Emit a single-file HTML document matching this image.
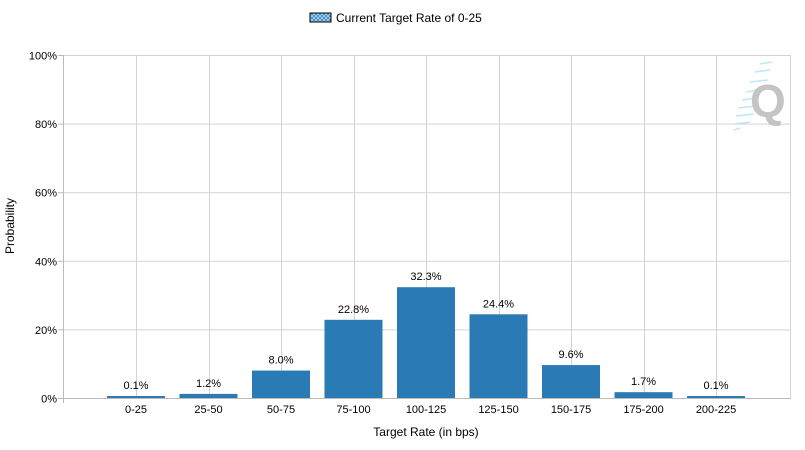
<!DOCTYPE html>
<html><head><meta charset="utf-8"><style>
body{margin:0;background:#fff;}
svg{display:block;font-family:"Liberation Sans",sans-serif;}
</style></head><body>
<svg id="chart" width="805" height="450" viewBox="0 0 805 450">
<defs>
<pattern id="hatch" width="4" height="4" patternUnits="userSpaceOnUse">
<rect width="4" height="4" fill="#2a7ab5"/>
<path d="M0 0L4 4M4 0L0 4" stroke="#a9d2ef" stroke-width="1"/>
</pattern>
</defs>
<g>
<rect x="310" y="13" width="21" height="9" fill="url(#hatch)" stroke="#000" stroke-width="1"/>
<text x="336" y="22" font-size="12" fill="#000">Current Target Rate of 0-25</text>
</g>
<g id="grid"></g>
<g>
<g stroke="#bfe6f7" stroke-width="1.5">
<line x1="760" y1="64" x2="772" y2="62"/><line x1="755" y1="72" x2="770" y2="70"/>
<line x1="750" y1="82" x2="768" y2="80"/><line x1="746" y1="92" x2="758" y2="90"/>
<line x1="742" y1="100" x2="756" y2="98"/><line x1="738" y1="108" x2="756" y2="106"/>
<line x1="736" y1="116" x2="754" y2="114"/><line x1="734" y1="124" x2="750" y2="122"/>
<line x1="734" y1="130" x2="740" y2="128"/>
</g>
<text x="750" y="117" font-size="46" fill="#c4c4c4" font-weight="bold">Q</text>
</g>
<g id="bars"></g>
<g id="axes"></g>
<text x="426" y="436" font-size="12" text-anchor="middle" fill="#000">Target Rate (in bps)</text>
<text x="0" y="0" font-size="12" text-anchor="middle" fill="#000" transform="translate(14,226) rotate(-90)">Probability</text>
</svg>
<script>
const categories = ["0-25","25-50","50-75","75-100","100-125","125-150","150-175","175-200","200-225"];
const values = [0.1,1.2,8.0,22.8,32.3,24.4,9.6,1.7,0.1];
const yTicks = [0,20,40,60,80,100];

const NS="http://www.w3.org/2000/svg";
const left=63,right=790,y0=398,y100=55,first=136,step=72.5,barW=58;
function xPos(i){return first+step*i;}
function yPos(v){return y0-(y0-y100)*v/100;}
function mk(tag,attrs,parent){const e=document.createElementNS(NS,tag);for(const k in attrs)e.setAttribute(k,attrs[k]);parent.appendChild(e);return e;}
const grid=document.getElementById('grid'),bars=document.getElementById('bars'),axes=document.getElementById('axes');
yTicks.forEach(t=>{
  const y=yPos(t)+0.5;
  const l=mk('line',{x1:left,x2:right,y1:y,y2:y,stroke:'#d3d3d3','stroke-width':1},grid);
  
  
  const tk=mk('line',{x1:left-5,x2:left,y1:y,y2:y,stroke:'#bbb'},axes);
  
  
  const tx=mk('text',{x:left-6,y:y+4,'font-size':11,'text-anchor':'end',fill:'#000'},axes);
  tx.textContent=t+'%';
  
  
});
categories.forEach((c,i)=>{
  const x=Math.round(xPos(i))+0.5;
  const l=mk('line',{x1:x,x2:x,y1:y100,y2:y0,stroke:'#d3d3d3'},grid);
  
  
  const tx=mk('text',{x:xPos(i),y:413,'font-size':11,'text-anchor':'middle',fill:'#000'},axes);
  tx.textContent=c;
  
  
});
const endL=mk('line',{x1:right+0.5,x2:right+0.5,y1:y100,y2:y0,stroke:'#d3d3d3'},grid);


values.forEach((v,i)=>{
  const top=yPos(v);
  const h=Math.max(y0-top,2);
  const r=mk('rect',{x:xPos(i)-barW/2,y:y0-h,width:barW,height:h,fill:'#2a7ab5'},bars);
  
  
  const t=mk('text',{x:xPos(i),y:y0-h-7,'font-size':11,'text-anchor':'middle',fill:'#000'},bars);
  t.textContent=v.toFixed(1)+'%';
  
  
});
const ya=mk('line',{x1:left+0.5,x2:left+0.5,y1:y100,y2:y0+5,stroke:'#bbb'},axes);


const xa=mk('line',{x1:left,x2:right+1,y1:y0+0.5,y2:y0+0.5,stroke:'#bbb'},axes);


</script>
</body></html>
